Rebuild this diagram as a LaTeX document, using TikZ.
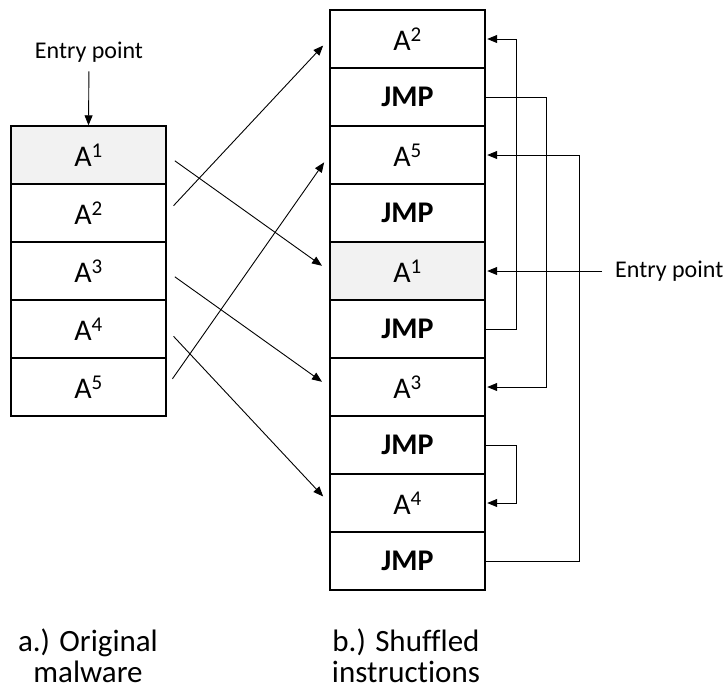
\documentclass[tikz,border=0pt]{standalone}
\usepackage{fontspec}
\setmainfont{Carlito}[Ligatures=CommonOff]
\usetikzlibrary{arrows.meta,calc}
\begin{document}
\begin{tikzpicture}[x=1pt,y=-1pt,
  cell/.style={draw=black,line width=1.4pt,minimum width=155pt,minimum height=58pt,
               inner sep=0pt,font=\fontsize{30}{36}\selectfont},
  entry/.style={cell,fill=black!5},
  jmp/.style={cell,font=\fontsize{30}{36}\selectfont\bfseries},
  lbl/.style={inner sep=0pt,font=\fontsize{24}{29}\selectfont},
  caption/.style={inner sep=0pt,align=center,font=\fontsize{31}{31}\selectfont},
  conn/.style={line width=0.9pt,-{Triangle[length=10pt,width=8pt]}}]
\useasboundingbox (0,0) rectangle (727,697);

% original program (left column)
\node[entry] (l1) at (88.5,155) {A\textsuperscript{1}};
\node[cell]  (l2) at (88.5,213) {A\textsuperscript{2}};
\node[cell]  (l3) at (88.5,271) {A\textsuperscript{3}};
\node[cell]  (l4) at (88.5,329) {A\textsuperscript{4}};
\node[cell]  (l5) at (88.5,387) {A\textsuperscript{5}};

% shuffled program (right column)
\node[cell]  (r1)  at (407.5,39)  {A\textsuperscript{2}};
\node[jmp]   (r2)  at (407.5,97)  {JMP};
\node[cell]  (r3)  at (407.5,155) {A\textsuperscript{5}};
\node[jmp]   (r4)  at (407.5,213) {JMP};
\node[entry] (r5)  at (407.5,271) {A\textsuperscript{1}};
\node[jmp]   (r6)  at (407.5,329) {JMP};
\node[cell]  (r7)  at (407.5,387) {A\textsuperscript{3}};
\node[jmp]   (r8)  at (407.5,445) {JMP};
\node[cell]  (r9)  at (407.5,503) {A\textsuperscript{4}};
\node[jmp]   (r10) at (407.5,561) {JMP};

% entry points
\node[lbl] (ep1) at (89,52) {Entry point};
\node[lbl,anchor=west] (ep2) at (615,271) {Entry point};
\draw[conn,shorten <=9pt] (ep1.south) -- (l1.north);
\draw[conn,shorten <=13pt,shorten >=1.5pt] (ep2.west) -- (r5.east);

% where each instruction moved to
\begin{scope}[conn,shorten <=10pt,shorten >=9pt]
  \draw (l1.east) -- (r5.west);
  \draw (l2.east) -- (r1.west);
  \draw (l3.east) -- (r7.west);
  \draw (l4.east) -- (r9.west);
  \draw (l5.east) -- (r3.west);
\end{scope}

% jumps that restore the original order
\begin{scope}[conn,shorten >=1.5pt]
  \draw (r6.east)  -- ++(31,0) |- (r1.east);
  \draw (r2.east)  -- ++(61,0) |- (r7.east);
  \draw (r10.east) -- ++(94,0) |- (r3.east);
  \draw (r8.east)  -- ++(31,0) |- (r9.east);
\end{scope}

% captions
\node[caption] (ca) at (88,656) {a.) Original\\malware};
\node[caption] (cb) at (406,656) {b.) Shuffled\\instructions};
\end{tikzpicture}
\end{document}
